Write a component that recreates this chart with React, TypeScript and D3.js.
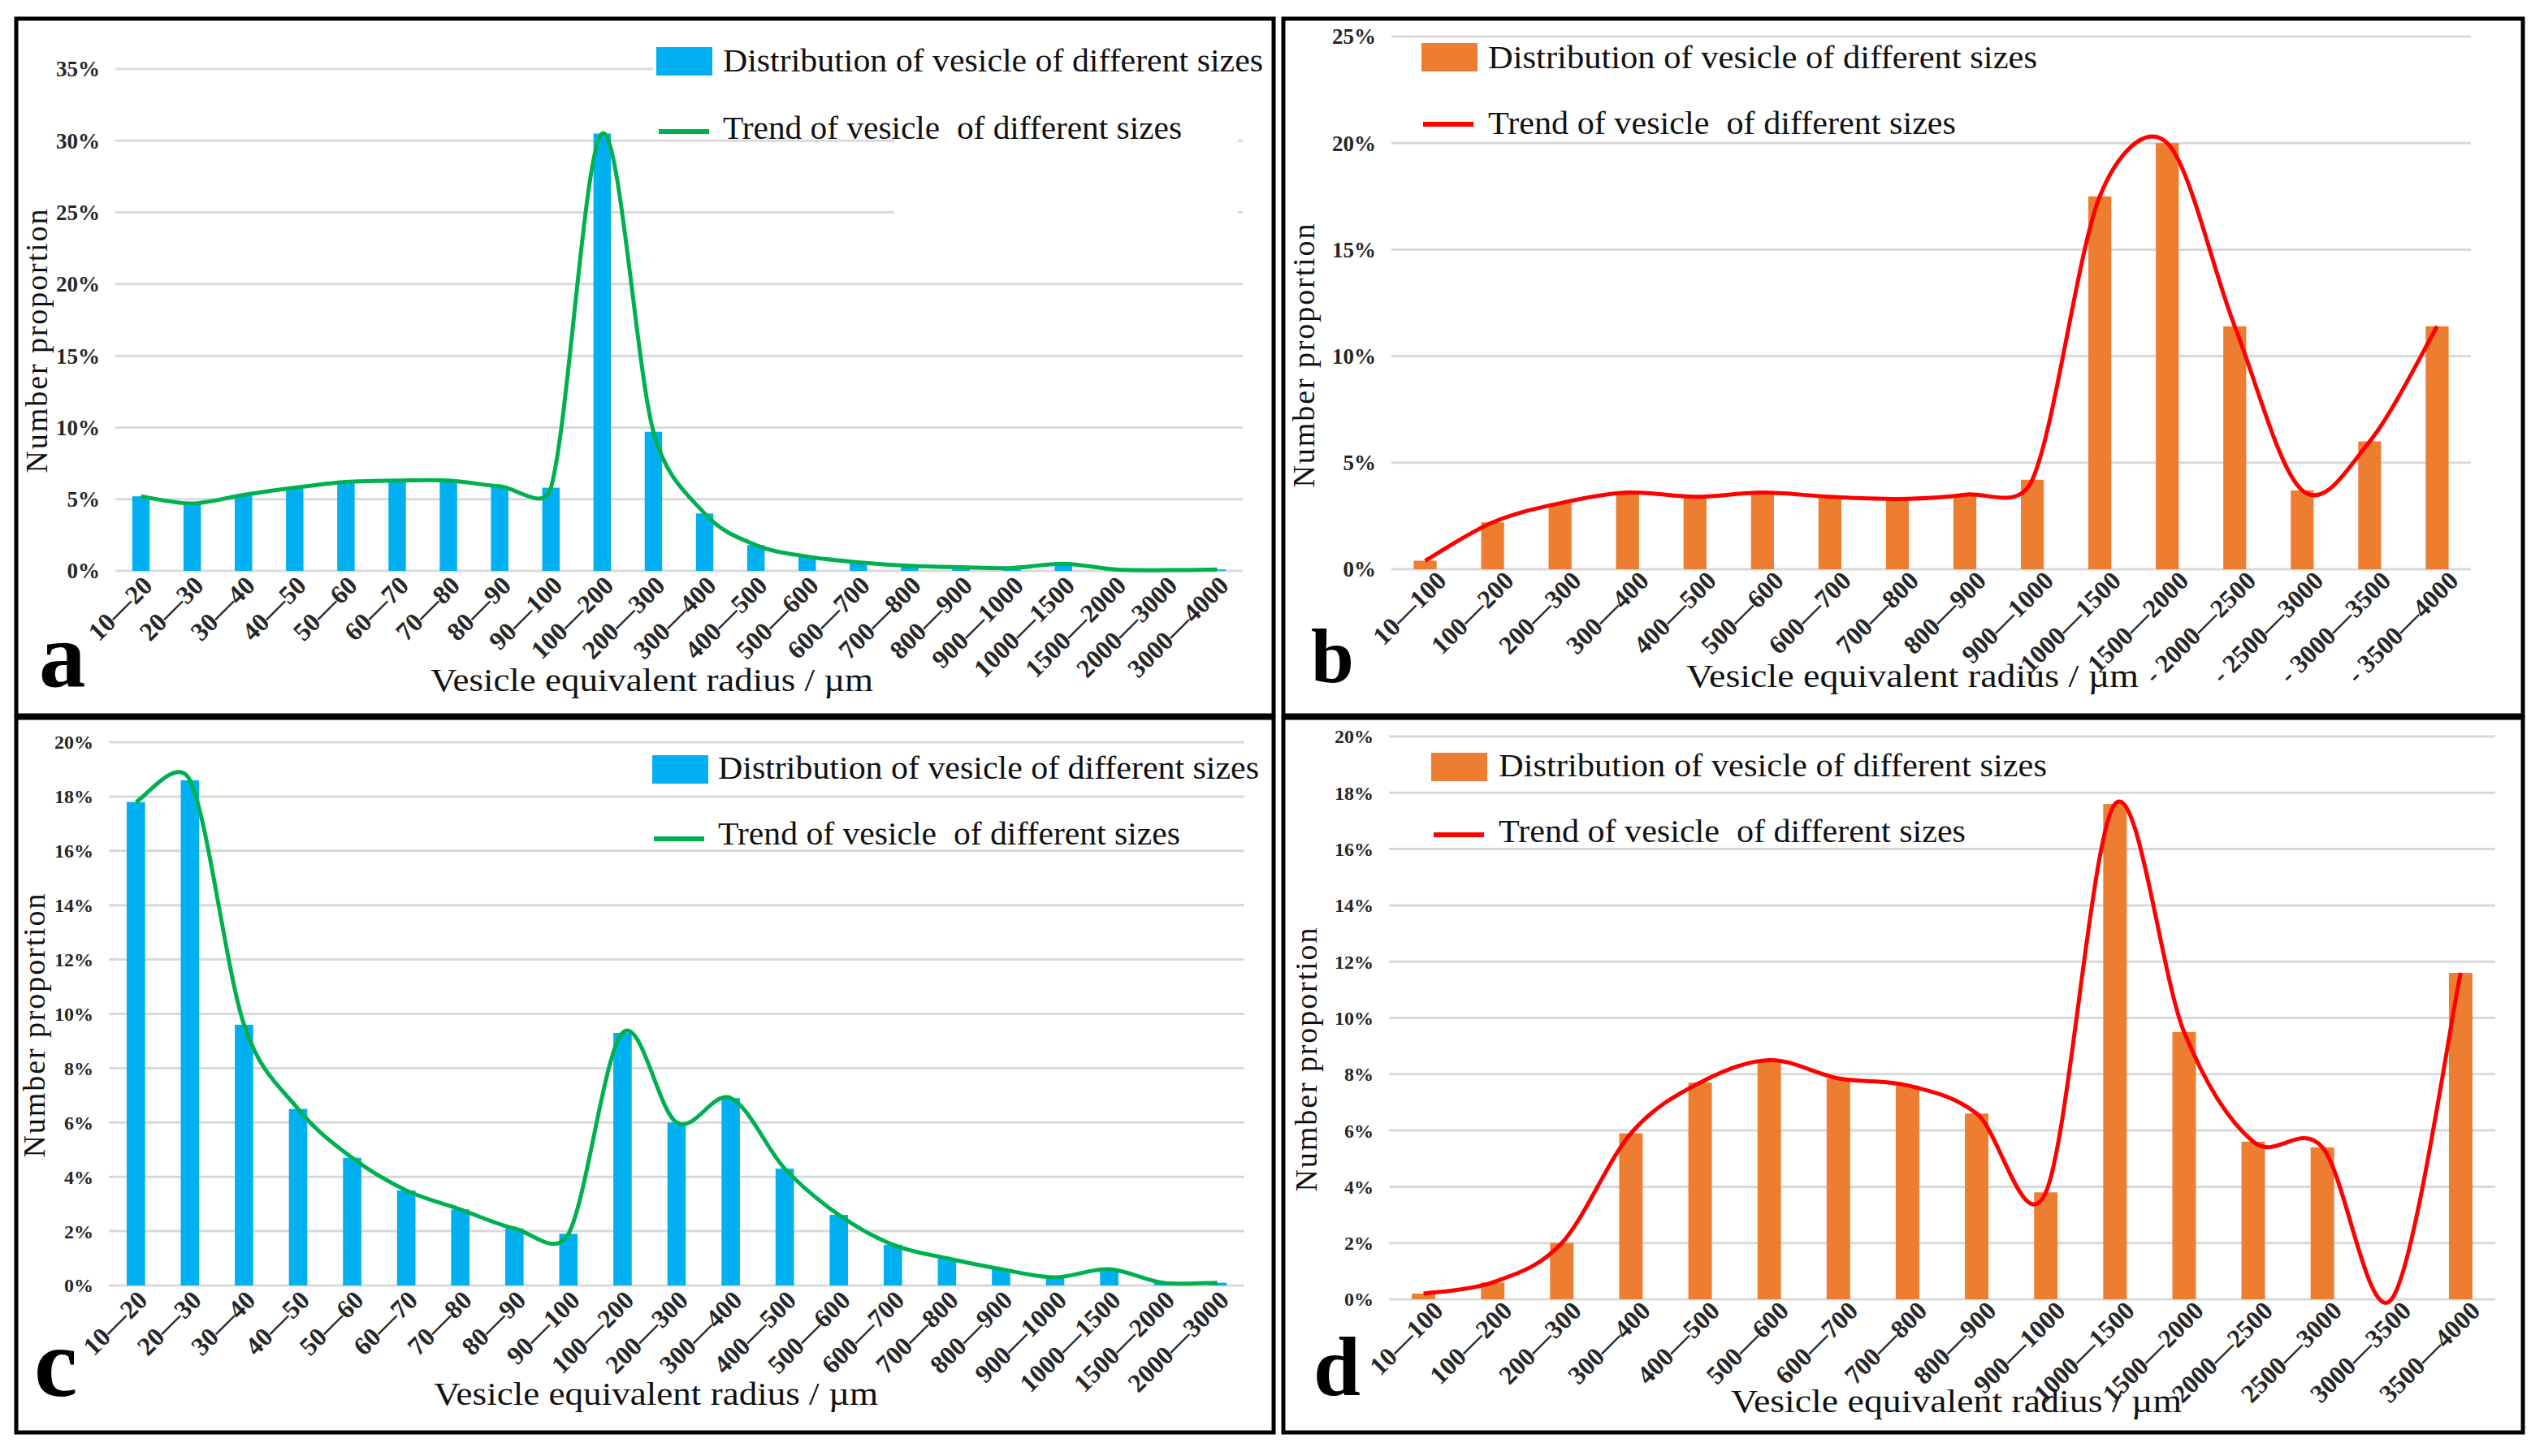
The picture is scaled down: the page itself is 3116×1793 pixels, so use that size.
import React from 'react';
import * as d3 from 'd3';

const W = 3116;
const H = 1793;
const SERIF = '"Liberation Serif", "Times New Roman", serif';

const BLUE = '#00b0f0';
const GREEN = '#00b050';
const ORANGE = '#ed7d31';
const RED = '#ff0000';
const GRID = '#d9d9d9';

// a: first sample, fine bins
const catsA = ['10—20', '20—30', '30—40', '40—50', '50—60', '60—70', '70—80', '80—90', '90—100', '100—200', '200—300',
  '300—400', '400—500', '500—600', '600—700', '700—800', '800—900', '900—1000', '1000—1500', '1500—2000', '2000—3000', '3000—4000'];
const valuesA = [5.2, 4.7, 5.3, 5.8, 6.2, 6.3, 6.3, 5.9, 5.8, 30.5, 9.7, 4.0, 1.8, 1.0, 0.6, 0.35, 0.25, 0.2, 0.5, 0.1, 0.05, 0.1];
const ticksA = [0, 5, 10, 15, 20, 25, 30, 35];

// b: coarse bins
const catsB = ['10—100', '100—200', '200—300', '300—400', '400—500', '500—600', '600—700', '700—800', '800—900', '900—1000',
  '1000—1500', '1500—2000', '- 2000—2500', '- 2500—3000', '- 3000—3500', '- 3500—4000'];
const valuesB = [0.4, 2.2, 3.1, 3.6, 3.4, 3.6, 3.4, 3.3, 3.5, 4.2, 17.5, 20.0, 11.4, 3.7, 6.0, 11.4];
const ticksB = [0, 5, 10, 15, 20, 25];

// c
const catsC = ['10—20', '20—30', '30—40', '40—50', '50—60', '60—70', '70—80', '80—90', '90—100', '100—200', '200—300',
  '300—400', '400—500', '500—600', '600—700', '700—800', '800—900', '900—1000', '1000—1500', '1500—2000', '2000—3000'];
const valuesC = [17.8, 18.6, 9.6, 6.5, 4.7, 3.5, 2.8, 2.1, 1.9, 9.3, 6.0, 6.9, 4.3, 2.6, 1.5, 1.0, 0.6, 0.3, 0.6, 0.1, 0.1];
const ticksC = [0, 2, 4, 6, 8, 10, 12, 14, 16, 18, 20];

// d
const catsD = ['10—100', '100—200', '200—300', '300—400', '400—500', '500—600', '600—700', '700—800', '800—900', '900—1000',
  '1000—1500', '1500—2000', '2000—2500', '2500—3000', '3000—3500', '3500—4000'];
const valuesD = [0.2, 0.6, 2.0, 5.9, 7.7, 8.5, 7.85, 7.6, 6.6, 3.8, 17.6, 9.5, 5.6, 5.4, 0, 11.6];
const ticksD = [0, 2, 4, 6, 8, 10, 12, 14, 16, 18, 20];

const LEGEND_BAR = 'Distribution of vesicle of different sizes';
const LEGEND_LINE = 'Trend of vesicle  of different sizes';
const X_TITLE = 'Vesicle equivalent radius / µm';
const Y_TITLE = 'Number proportion';

type Pt = [number, number];

// spreadsheet-style smoothed line: cardinal bezier, control arms capped at half a segment
function smoothPath(pts: Pt[]): string {
  const p = d3.path();
  if (!pts.length) return '';
  const dist = (a: Pt, b: Pt) => Math.hypot(b[0] - a[0], b[1] - a[1]);
  p.moveTo(pts[0][0], pts[0][1]);
  for (let i = 0; i < pts.length - 1; i++) {
    const p0 = pts[Math.max(i - 1, 0)];
    const p1 = pts[i];
    const p2 = pts[i + 1];
    const p3 = pts[Math.min(i + 2, pts.length - 1)];
    const d12 = dist(p1, p2);
    const d02 = dist(p0, p2);
    const d13 = dist(p1, p3);
    let f1 = 1 / 6;
    let f2 = 1 / 6;
    if (f1 * d02 > d12 / 2) f1 = d12 / (2 * d02);
    if (f2 * d13 > d12 / 2) f2 = d12 / (2 * d13);
    p.bezierCurveTo(
      p1[0] + f1 * (p2[0] - p0[0]), p1[1] + f1 * (p2[1] - p0[1]),
      p2[0] - f2 * (p3[0] - p1[0]), p2[1] - f2 * (p3[1] - p1[1]),
      p2[0], p2[1],
    );
  }
  return p.toString();
}

interface Layout {
  x0: number; x1: number; y0: number; yTop: number; max: number;
  tickSize: number; labelDx: number; labelDy: number;
  legend: { sx: number; sy: number; lx: number; ly: number; tx: number; b1: number; b2: number; len1: number; len2: number };
  xTitle: { x: number; y: number; len: number };
  yTitle: { x: number; y: number };
  letter: { text: string; x: number; y: number; size: number };
}

interface PanelProps {
  cats: string[];
  values: number[];
  ticks: number[];
  barColor: string;
  lineColor: string;
  layout: Layout;
  masks?: { x: number; y: number; w: number; h: number }[];
}

const Panel: React.FC<PanelProps> = ({ cats, values, ticks, barColor, lineColor, layout: L, masks = [] }) => {
  const x = d3.scaleBand<string>().domain(cats).range([L.x0, L.x1]).paddingInner(0.66).paddingOuter(0.33);
  const y = d3.scaleLinear().domain([0, L.max]).range([L.y0, L.yTop]);
  const cx = (c: string) => (x(c) ?? 0) + x.bandwidth() / 2;
  const pts: Pt[] = values.map((v, i) => [cx(cats[i]), y(v)]);

  return (
    <g>
      {ticks.map(t => (
        <line key={`g${t}`} x1={L.x0} x2={L.x1} y1={y(t)} y2={y(t)} stroke={GRID} strokeWidth={3} />
      ))}
      {masks.map((m, i) => (
        <rect key={`m${i}`} x={m.x} y={m.y} width={m.w} height={m.h} fill="#fff" />
      ))}
      {ticks.map(t => (
        <text key={`t${t}`} x={L.x0 - 19} y={y(t)} dy="0.35em" textAnchor="end" fontFamily={SERIF}
          fontWeight="bold" fontSize={L.tickSize} fill="#262626">{`${t}%`}</text>
      ))}
      {cats.map((c, i) => (
        <rect key={`b${c}`} x={x(c)} y={y(values[i])} width={x.bandwidth()} height={y(0) - y(values[i])} fill={barColor} />
      ))}
      <path d={smoothPath(pts)} fill="none" stroke={lineColor} strokeWidth={5} strokeLinejoin="round" />
      {cats.map(c => (
        <text key={`x${c}`} transform={`translate(${cx(c) + L.labelDx},${L.y0 + L.labelDy}) rotate(-45)`} textAnchor="end"
          fontFamily={SERIF} fontWeight="bold" fontSize={32} fill="#262626" style={{ whiteSpace: 'pre' }}>{c}</text>
      ))}

      <rect x={L.legend.sx} y={L.legend.sy} width={69} height={35} fill={barColor} />
      <line x1={L.legend.lx} x2={L.legend.lx + 62} y1={L.legend.ly} y2={L.legend.ly} stroke={lineColor} strokeWidth={6} />
      <text x={L.legend.tx} y={L.legend.b1} fontFamily={SERIF} fontSize={40} textLength={L.legend.len1}
        lengthAdjust="spacingAndGlyphs" fill="#111">{LEGEND_BAR}</text>
      <text x={L.legend.tx} y={L.legend.b2} fontFamily={SERIF} fontSize={40} textLength={L.legend.len2}
        lengthAdjust="spacingAndGlyphs" fill="#111" style={{ whiteSpace: 'pre' }}>{LEGEND_LINE}</text>

      <text x={L.xTitle.x} y={L.xTitle.y} fontFamily={SERIF} fontSize={40} textLength={L.xTitle.len}
        lengthAdjust="spacingAndGlyphs" fill="#111">{X_TITLE}</text>
      <text transform={`translate(${L.yTitle.x},${L.yTitle.y}) rotate(-90)`} textAnchor="middle" fontFamily={SERIF}
        fontSize={38} textLength={325} lengthAdjust="spacing" fill="#111">{Y_TITLE}</text>
      <text x={L.letter.x} y={L.letter.y} fontFamily={SERIF} fontWeight="bold" fontSize={L.letter.size} fill="#000">
        {L.letter.text}
      </text>
    </g>
  );
};

const layoutA: Layout = {
  x0: 142, x1: 1530, y0: 703, yTop: 85, max: 35, tickSize: 27, labelDx: 16, labelDy: 20,
  legend: { sx: 808, sy: 58, lx: 811, ly: 162, tx: 890, b1: 88, b2: 171, len1: 665, len2: 565 },
  xTitle: { x: 530, y: 851, len: 545 },
  yTitle: { x: 58, y: 420 },
  letter: { text: 'a', x: 48, y: 845, size: 115 },
};

const layoutB: Layout = {
  x0: 1713, x1: 3042, y0: 701, yTop: 45, max: 25, tickSize: 27, labelDx: 28, labelDy: 16,
  legend: { sx: 1750, sy: 53, lx: 1752, ly: 153, tx: 1832, b1: 84, b2: 165, len1: 676, len2: 576 },
  xTitle: { x: 2076, y: 846, len: 557 },
  yTitle: { x: 1618, y: 438 },
  letter: { text: 'b', x: 1614, y: 840, size: 95 },
};

const layoutC: Layout = {
  x0: 134, x1: 1532, y0: 1583, yTop: 914, max: 20, tickSize: 24, labelDx: 16, labelDy: 20,
  legend: { sx: 803, sy: 930, lx: 805, ly: 1033, tx: 884, b1: 959, b2: 1040, len1: 666, len2: 569 },
  xTitle: { x: 534, y: 1730, len: 547 },
  yTitle: { x: 55, y: 1263 },
  letter: { text: 'c', x: 42, y: 1719, size: 120 },
};

const layoutD: Layout = {
  x0: 1710, x1: 3072, y0: 1600, yTop: 907, max: 20, tickSize: 24, labelDx: 26, labelDy: 16,
  legend: { sx: 1762, sy: 927, lx: 1765, ly: 1028, tx: 1845, b1: 956, b2: 1037, len1: 675, len2: 575 },
  xTitle: { x: 2131, y: 1739, len: 555 },
  yTitle: { x: 1621, y: 1305 },
  letter: { text: 'd', x: 1617, y: 1718, size: 104 },
};

// the legend box in a hides part of the upper gridlines
const masksA = [
  { x: 804, y: 70, w: 730, h: 30 },
  { x: 1101, y: 150, w: 423, h: 125 },
];

export default function App() {
  return (
    <svg width={W} height={H} viewBox={`0 0 ${W} ${H}`} style={{ position: 'absolute', left: 0, top: 0, background: '#fff' }}>
      <rect width={W} height={H} fill="#fff" />
      <Panel cats={catsA} values={valuesA} ticks={ticksA} barColor={BLUE} lineColor={GREEN} layout={layoutA} masks={masksA} />
      <Panel cats={catsB} values={valuesB} ticks={ticksB} barColor={ORANGE} lineColor={RED} layout={layoutB} />
      <Panel cats={catsC} values={valuesC} ticks={ticksC} barColor={BLUE} lineColor={GREEN} layout={layoutC} />
      <Panel cats={catsD} values={valuesD} ticks={ticksD} barColor={ORANGE} lineColor={RED} layout={layoutD} />

      {/* panel frames */}
      <g fill="none" stroke="#000">
        <rect x={20} y={23} width={1548} height={858} strokeWidth={5} />
        <rect x={1580} y={23} width={1526} height={858} strokeWidth={5} />
        <rect x={20} y={884} width={1548} height={880} strokeWidth={5} />
        <rect x={1580} y={884} width={1526} height={880} strokeWidth={5} />
      </g>
    </svg>
  );
}
